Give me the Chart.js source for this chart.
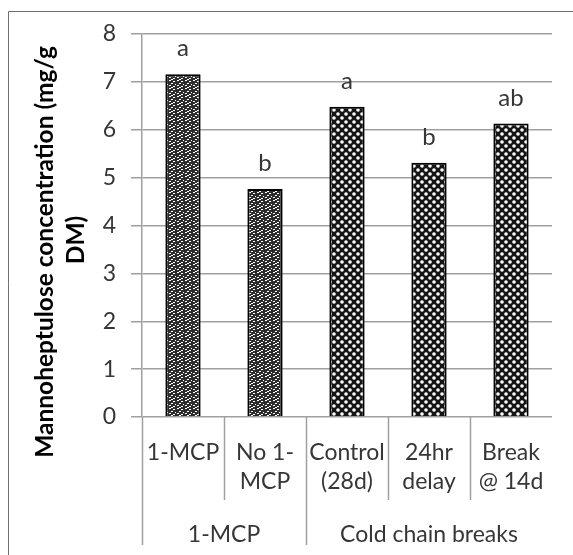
<!DOCTYPE html>
<html>
<head>
<meta charset="utf-8">
<script src="https://cdn.jsdelivr.net/npm/chart.js@4.4.1/dist/chart.umd.min.js"></script>
<style>
  html, body { margin: 0; padding: 0; background: #fff; }
  #wrap { position: relative; width: 573px; height: 555px; }
</style>
</head>
<body>
<div id="wrap"><canvas id="myChart" width="573" height="555"></canvas></div>
<script>
// Bar values and labels
const categories = [["1-MCP"], ["No 1-", "MCP"], ["Control", "(28d)"], ["24hr", "delay"], ["Break", "@ 14d"]];
const values = [7.16, 4.76, 6.48, 5.31, 6.13];
const letters = ["a", "b", "a", "b", "ab"];
const groups = ["1-MCP", "Cold chain breaks"];
const groupSizes = [2, 3];
const yTitle = ["Mannoheptulose concentration (mg/g", "DM)"];

const FONT = "Lato";
const GRID = "#a0a0a0";
const TEXT = "#363636";

// group index for every bar
const groupOf = [];
groupSizes.forEach(function (n, g) {
    for (let i = 0; i < n; i++) groupOf.push(g);
});

// Second x axis works on half-category slots (edges and centres),
// so a group label can sit on a category boundary as well.
const groupSlots = [];
for (let k = 0; k <= categories.length * 2; k++) groupSlots.push("");
let start = 0;
groupSizes.forEach(function (n, g) {
    const centre = start + (n - 1) / 2;     // in category index units
    groupSlots[Math.round(centre * 2 + 1)] = groups[g];
    start += n;
});

// fine speckled fill
function makeSpeckle() {
    const c = document.createElement("canvas");
    c.width = 8; c.height = 8;
    const g = c.getContext("2d");
    g.fillStyle = "#2e2e2e";
    g.fillRect(0, 0, 8, 8);
    g.fillStyle = "#ffffff";
    [[1, 0], [5, 1], [3, 3], [7, 4], [1, 5], [5, 6], [3, 7]].forEach(function (p) {
        g.fillRect(p[0], p[1], 2, 1);
    });
    return g.createPattern(c, "repeat");
}

// black fill with white dots on a diagonal grid
function makeSpheres() {
    const c = document.createElement("canvas");
    c.width = 8; c.height = 8;
    const g = c.getContext("2d");
    g.fillStyle = "#151515";
    g.fillRect(0, 0, 8, 8);
    g.fillStyle = "#ffffff";
    [[2, 2], [6, 6]].forEach(function (p) {
        g.beginPath();
        g.arc(p[0], p[1], 1.8, 0, Math.PI * 2);
        g.fill();
    });
    return g.createPattern(c, "repeat");
}

const fills = [makeSpeckle(), makeSpheres()];

// outer frame
const framePlugin = {
    id: "frame",
    beforeDraw(chart) {
        const ctx = chart.ctx;
        ctx.save();
        ctx.fillStyle = "#fff";
        ctx.fillRect(0, 0, chart.width, chart.height);
        ctx.strokeStyle = "#6e6e6e";
        ctx.lineWidth = 1;
        ctx.beginPath();
        ctx.moveTo(8.5, chart.height);
        ctx.lineTo(8.5, 11.5);
        ctx.lineTo(chart.width, 11.5);
        ctx.stroke();
        ctx.restore();
    }
};

// separators between the category labels and between the groups
const separatorPlugin = {
    id: "separators",
    afterDraw(chart) {
        const xs = chart.scales.x;
        const x2 = chart.scales.x2;
        const ctx = chart.ctx;
        const groupStarts = [];
        let s = 0;
        groupSizes.forEach(function (n) { groupStarts.push(s); s += n; });
        ctx.save();
        ctx.strokeStyle = GRID;
        ctx.lineWidth = 1.5;
        for (let i = 0; i < categories.length; i++) {
            const px = Math.round(xs.getPixelForValue(i - 0.5)) + 0.5;
            const end = groupStarts.indexOf(i) >= 0 ? x2.bottom : xs.bottom;
            ctx.beginPath();
            ctx.moveTo(px, xs.top);
            ctx.lineTo(px, end);
            ctx.stroke();
        }
        ctx.restore();
    }
};

// significance letters above the bars
const letterPlugin = {
    id: "letters",
    afterDatasetsDraw(chart) {
        const ctx = chart.ctx;
        const meta = chart.getDatasetMeta(0);
        ctx.save();
        ctx.font = "24px " + FONT;
        ctx.fillStyle = TEXT;
        ctx.textAlign = "center";
        ctx.textBaseline = "alphabetic";
        meta.data.forEach(function (bar, i) {
            ctx.fillText(letters[i], bar.x, bar.y - 18);
        });
        ctx.restore();
    }
};

// rotated y axis title
const yTitlePlugin = {
    id: "ytitle",
    afterDraw(chart) {
        const ctx = chart.ctx;
        ctx.save();
        ctx.font = "bold 24.5px " + FONT;
        ctx.fillStyle = "#000";
        ctx.textAlign = "center";
        ctx.textBaseline = "middle";
        ctx.translate(45, 252);
        ctx.rotate(-Math.PI / 2);
        ctx.fillText(yTitle[0], 0, 0);
        ctx.fillText(yTitle[1], 12, 31);
        ctx.restore();
    }
};

const ctx = document.getElementById("myChart");
new Chart(ctx, {
    type: "bar",
    data: {
        labels: categories,
        datasets: [{
            data: values,
            backgroundColor: groupOf.map(function (g) { return fills[g]; }),
            borderColor: "#000",
            borderWidth: 2,
            categoryPercentage: 1,
            barPercentage: 0.43
        }]
    },
    options: {
        responsive: false,
        animation: false,
        layout: { padding: { left: 0, top: 34, right: 17, bottom: 10 } },
        plugins: { legend: { display: false }, tooltip: { enabled: false } },
        scales: {
            y: {
                min: 0,
                max: 8,
                ticks: { stepSize: 1, padding: 15, color: TEXT, font: { family: FONT, size: 23 } },
                grid: { color: GRID, lineWidth: 1.5, tickLength: 11 },
                border: { color: GRID, width: 1.5 },
                afterFit: function (scale) { scale.width = 142; }
            },
            x: {
                weight: 0,
                grid: { display: false, drawTicks: false },
                border: { display: false },
                ticks: {
                    padding: 21,
                    color: TEXT,
                    maxRotation: 0,
                    autoSkip: false,
                    font: { family: FONT, size: 23, lineHeight: 1.26 }
                },
                afterFit: function (scale) { scale.height = 83; }
            },
            x2: {
                type: "category",
                labels: groupSlots,
                position: "bottom",
                weight: 1,
                offset: false,
                grid: { display: false, drawTicks: false },
                border: { display: false },
                ticks: {
                    padding: 21,
                    color: TEXT,
                    maxRotation: 0,
                    autoSkip: false,
                    font: { family: FONT, size: 23, lineHeight: 1.2 }
                },
                afterFit: function (scale) { scale.height = 45; }
            }
        }
    },
    plugins: [framePlugin, separatorPlugin, letterPlugin, yTitlePlugin]
});
</script>
</body>
</html>
